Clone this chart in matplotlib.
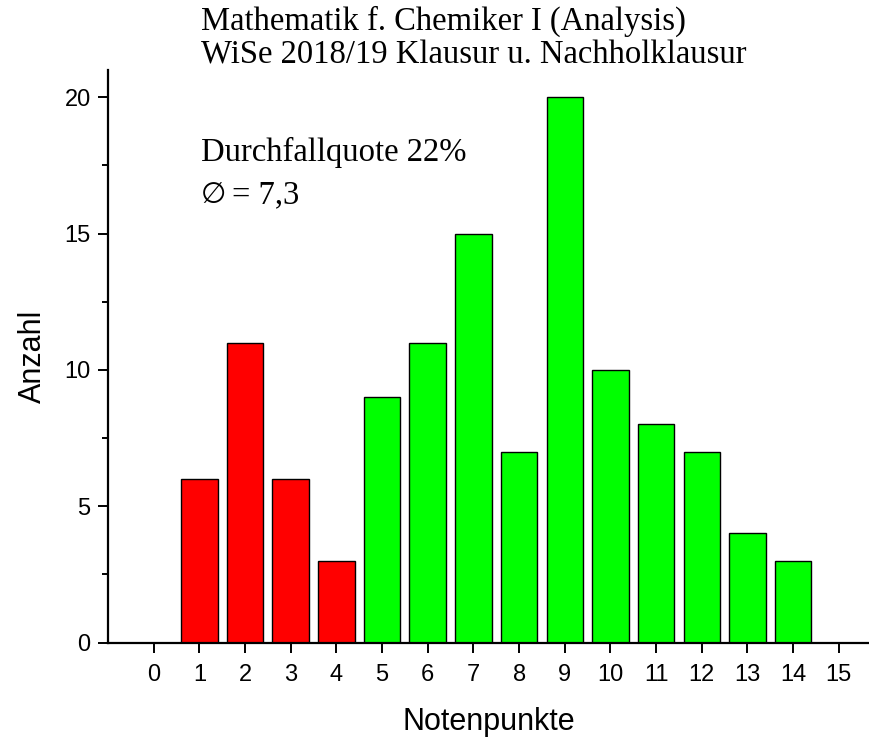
import matplotlib
matplotlib.use('Agg')
import matplotlib.pyplot as plt
from matplotlib.ticker import MultipleLocator

# Daten
punkte = list(range(0, 16))
anzahl = [0, 6, 11, 6, 3, 9, 11, 15, 7, 20, 10, 8, 7, 4, 3, 0]
farben = ['#FF0000' if p <= 4 else '#00FF00' for p in punkte]

plt.rcParams['font.family'] = ['Liberation Sans', 'DejaVu Sans']

fig = plt.figure(figsize=(8.69, 7.38), dpi=100)
ax = fig.add_axes([108/869, 1 - 642.5/738, 1 - 108/869, (642.5 - 70)/738])

ax.bar(punkte, anzahl, width=0.8, color=farben, edgecolor='black', linewidth=1)

ax.set_xlim(-1, 15.66)
ax.set_ylim(0, 21)
ax.set_xticks(punkte)
ax.yaxis.set_major_locator(MultipleLocator(5))
ax.yaxis.set_minor_locator(MultipleLocator(2.5))

for s in ['top', 'right']:
    ax.spines[s].set_visible(False)
for s in ['left', 'bottom']:
    ax.spines[s].set_linewidth(1.6)

ax.tick_params(axis='both', which='major', direction='out', length=7.5, width=1.4, labelsize=17)
ax.tick_params(axis='y', which='minor', direction='out', length=4.5, width=1.4)
ax.tick_params(axis='x', pad=8)
ax.tick_params(axis='y', pad=5)

ax.set_xlabel('Notenpunkte', fontsize=22, labelpad=15)
ax.set_ylabel('Anzahl', fontsize=22, labelpad=12)

serif = ['Liberation Serif', 'DejaVu Serif']
fig.text(201/869, 1 - 30/738, 'Mathematik f. Chemiker I (Analysis)', family=serif, fontsize=23.5, va='baseline')
fig.text(201/869, 1 - 63/738, 'WiSe 2018/19 Klausur u. Nachholklausur', family=serif, fontsize=23.5, va='baseline')
fig.text(201/869, 1 - 161/738, 'Durchfallquote 22%', family=serif, fontsize=23.5, va='baseline')
fig.text(201/869, 1 - 203/738, '\u2205', family=['DejaVu Sans', 'Noto Sans CJK JP', 'Noto Sans'], fontsize=21, va='baseline')
fig.text(232/869, 1 - 203/738, '= 7,3', family=serif, fontsize=23.5, va='baseline')

fig.savefig('out.png', dpi=100)
